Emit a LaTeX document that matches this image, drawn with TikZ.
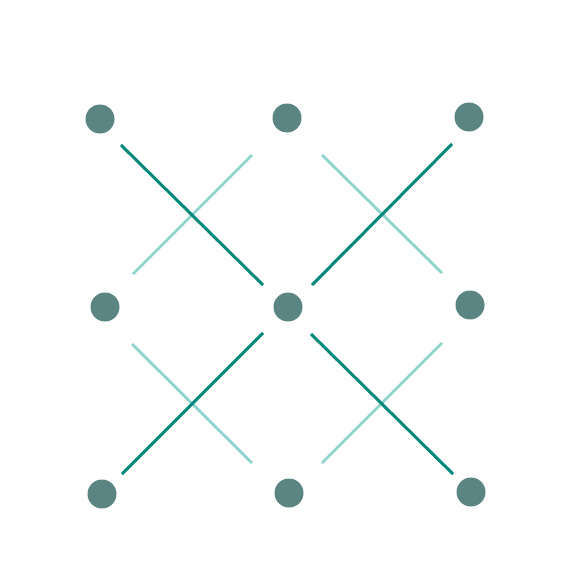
\documentclass[tikz,border=0pt]{standalone}
\definecolor{dotc}{HTML}{5B8583}
\definecolor{darkl}{HTML}{00897B}
\definecolor{lightl}{HTML}{8FD3CF}
\begin{document}
\begin{tikzpicture}[x=1pt,y=-1pt,
  dotn/.style={circle,fill=dotc,inner sep=0pt,minimum size=29pt},
  darkline/.style={draw=darkl,line width=3pt},
  lightline/.style={draw=lightl,line width=2.8pt}]
\useasboundingbox (0,0) rectangle (575,575);
\node[dotn] (d11) at (100,119) {};
\node[dotn] (d12) at (287,118) {};
\node[dotn] (d13) at (469,117) {};
\node[dotn] (d21) at (105,307) {};
\node[dotn] (d22) at (288,307) {};
\node[dotn] (d23) at (470,305) {};
\node[dotn] (d31) at (102,494) {};
\node[dotn] (d32) at (289,493) {};
\node[dotn] (d33) at (471,492) {};
% dark line ends
\coordinate (a1) at (121,145); \coordinate (a2) at (263,285);
\coordinate (b1) at (452,144); \coordinate (b2) at (312,285);
\coordinate (c1) at (122,474); \coordinate (c2) at (263,333);
\coordinate (e1) at (453,474); \coordinate (e2) at (311,334);
% light line ends
\coordinate (l1) at (252,155); \coordinate (l2) at (133,274);
\coordinate (m1) at (322,155); \coordinate (m2) at (442,273);
\coordinate (n1) at (132,344); \coordinate (n2) at (252,463);
\coordinate (o1) at (442,343); \coordinate (o2) at (322,463);
\draw[lightline] (l1) -- (l2);
\draw[lightline] (m1) -- (m2);
\draw[lightline] (n1) -- (n2);
\draw[lightline] (o1) -- (o2);
\draw[darkline] (a1) -- (a2);
\draw[darkline] (b1) -- (b2);
\draw[darkline] (c1) -- (c2);
\draw[darkline] (e1) -- (e2);
\end{tikzpicture}
\end{document}
